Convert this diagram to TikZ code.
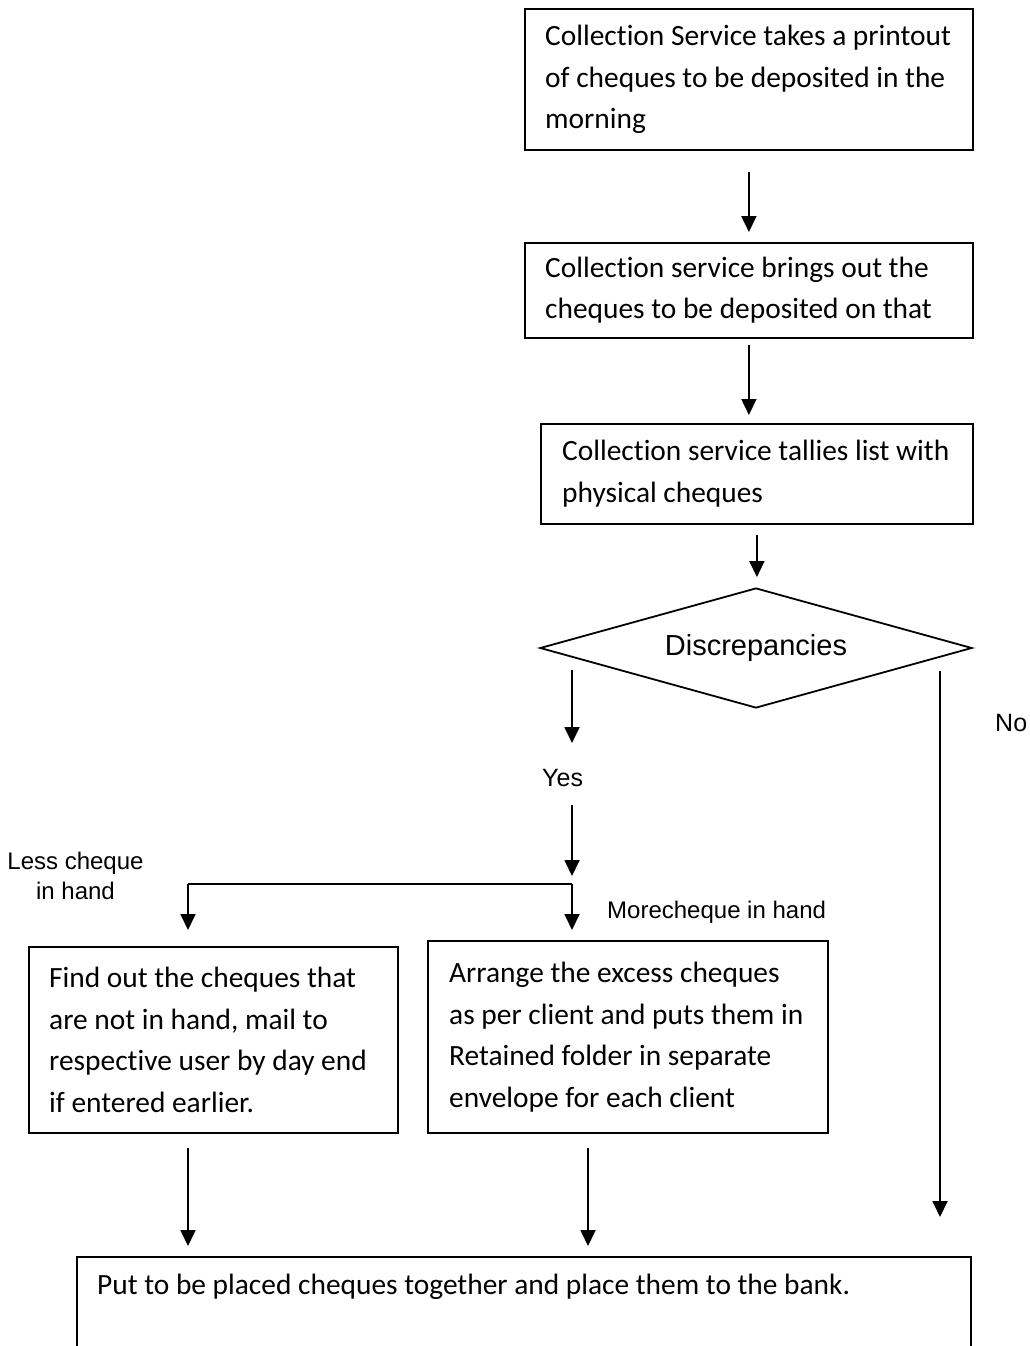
\documentclass[tikz,border=0pt]{standalone}
\usepackage{fontspec}
\setmainfont{Carlito}[Ligatures={NoCommon}]
\newfontfamily\arialf{Liberation Sans}
\usetikzlibrary{arrows.meta,shapes.geometric}
\begin{document}
\begin{tikzpicture}[x=1pt,y=-1pt,
  box/.style={draw, line width=1.8pt, inner sep=0pt, anchor=north west},
  txt/.style={inner sep=0pt, align=left, anchor=west, font=\fontsize{29.4}{41.5}\selectfont},
  lbl/.style={inner sep=0pt, font=\arialf\fontsize{24}{30}\selectfont},
  arr/.style={line width=1.8pt, -{Triangle[length=16pt,width=15pt]}},
  plain/.style={line width=1.8pt}]
\path[fill=white, use as bounding box] (0,0) rectangle (1030,1346);

% boxes
\node[box, minimum width=448pt, minimum height=141pt] (b1) at (524,8) {};
\node[txt] (t1) at ([xshift=21pt]b1.west) {Collection Service takes a printout\\of cheques to be deposited in the\\morning};

\node[box, minimum width=448pt, minimum height=95pt] (b2) at (524,242) {};
\node[txt] (t2) at ([xshift=21pt]b2.west) {Collection service brings out the\\cheques to be deposited on that};

\node[box, minimum width=432pt, minimum height=100pt] (b3) at (540,423) {};
\node[txt] (t3) at ([xshift=22pt]b3.west) {Collection service tallies list with\\physical cheques};

\node[draw, line width=1.8pt, diamond, aspect=3.6, inner sep=0pt, minimum width=432pt, minimum height=120pt,
      font=\arialf\fontsize{29}{34}\selectfont] (d) at (756,648) {Discrepancies};

\node[box, minimum width=369pt, minimum height=186pt] (b4) at (28,946) {};
\node[txt] (t4) at ([xshift=21pt]b4.west) {Find out the cheques that\\are not in hand, mail to\\respective user by day end\\if entered earlier.};

\node[box, minimum width=400pt, minimum height=192pt] (b5) at (427,940) {};
\node[txt] (t5) at ([xshift=22pt]b5.west) {Arrange the excess cheques\\as per client and puts them in\\Retained folder in separate\\envelope for each client};

\node[box, minimum width=894pt, minimum height=120pt] (b6) at (76,1256) {};
\node[txt, anchor=base west] (t6) at (97,1294) {Put to be placed cheques together and place them to the bank.};

% labels
\node[lbl, font=\arialf\fontsize{25}{30}\selectfont, anchor=base west] (yes) at (542,786) {Yes};
\node[lbl, font=\arialf\fontsize{25}{30}\selectfont, anchor=base west] (no) at (995,731) {No};
\node[lbl, align=center] (less) at (75.5,876) {Less cheque\\in hand};
\node[lbl, anchor=base west] (more) at (607,918.6) {Morecheque in hand};

% coordinates
\coordinate (ys) at (572,670);
\coordinate (ye) at (572,743);
\coordinate (ya) at (572,805);
\coordinate (yb) at (572,876);
\coordinate (jl) at (188,884);
\coordinate (jr) at (572,884);
\coordinate (mc) at (588,0);
\coordinate (ns) at (940,671);

% connectors
\draw[arr, shorten <=21pt, shorten >=10pt] (b1.south) -- (b2.north);
\draw[arr, shorten <=6pt, shorten >=8pt] (b2.south) -- (b2.south |- b3.north);
\draw[arr, shorten <=10pt, shorten >=10pt] (b3.south) -- (b3.south |- d.north);
\draw[arr] (ys) -- (ye);
\draw[arr] (ya) -- (yb);
\draw[plain] (jl) -- (jr);
\draw[arr, shorten >=16pt] (jl) -- (jl |- b4.north);
\draw[arr, shorten >=10pt] (jr) -- (jr |- b5.north);
\draw[arr, shorten <=14pt, shorten >=10pt] (jl |- b4.south) -- (jl |- b6.north);
\draw[arr, shorten <=14pt, shorten >=10pt] (mc |- b5.south) -- (mc |- b6.north);
\draw[arr, shorten >=39pt] (ns) -- (ns |- b6.north);
\end{tikzpicture}
\end{document}
